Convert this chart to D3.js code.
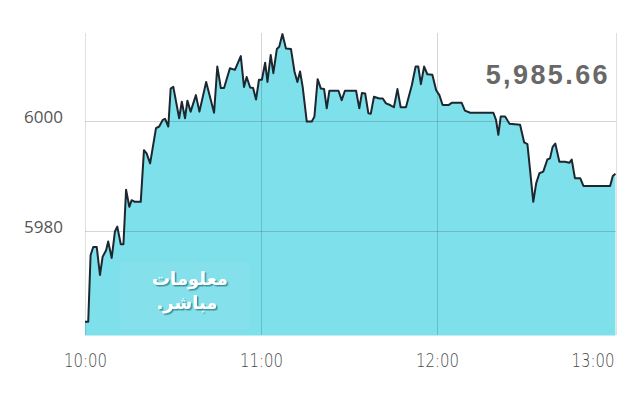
<!DOCTYPE html>
<html>
<head>
<meta charset="utf-8">
<script src="https://cdn.jsdelivr.net/npm/d3@7"></script>
<style>
  body { margin: 0; background: #fff; }
  svg { display: block; }
</style>
</head>
<body>
<div id="chart"></div>
<script>
// minutes after 10:00 and index level
const minutes = [0, 1.1, 1.9, 2.8, 4.0, 5.1, 6.0, 7.2, 7.9, 9.1, 10.2, 11.0, 12.2, 13.1, 14.0, 15.1, 15.9, 17.0, 19.0,
  20.1, 21.0, 22.2, 24.2, 25.3, 26.5, 27.3, 28.4, 29.2, 30.1, 32.1, 33.0, 34.1, 34.9, 36.0, 37.8, 39.0, 41.3,
  44.0, 45.1, 46.3, 47.4, 49.4, 51.1, 53.1, 54.2, 55.1, 56.3, 57.3, 58.3, 59.3, 60.3, 61.4, 62.2, 63.3, 64.2,
  65.4, 66.2, 67.3, 68.5, 70.2, 71.4, 72.4, 73.3, 74.2, 75.6, 77.3, 78.2, 79.3, 80.4, 81.5, 82.4, 83.3, 86.4,
  87.5, 88.6, 92.4, 93.5, 94.4, 95.5, 96.6, 97.4, 98.5, 100.3, 101.5, 102.6, 104.0, 105.3, 106.5, 107.6, 109.4,
  111.4, 112.7, 113.6, 114.5, 115.6, 116.7, 118.4, 119.7, 120.8, 121.9, 123.9, 125.0, 128.4, 129.5, 131.3,
  139.2, 140.1, 140.9, 141.7, 143.2, 144.7, 148.3, 149.7, 150.8, 151.7, 152.8, 153.8, 154.9, 156.2, 157.6,
  158.5, 159.4, 160.3, 161.7, 163.6, 165.1, 165.9, 167.0, 168.8, 169.9, 179.0, 179.9, 180.8];
const values = [5963.5, 5963.5, 5975.6, 5977.1, 5977.1, 5972.0, 5975.3, 5976.5, 5978.1, 5975.1, 5979.9, 5980.8, 5977.6, 5977.6, 5987.5, 5984.4, 5985.6, 5985.3, 5985.3,
  5994.7, 5994.1, 5992.3, 5998.7, 5999.0, 6000.2, 6000.4, 5999.0, 6005.9, 6006.2, 6000.5, 6003.5, 6000.5, 6003.7, 6001.7, 6004.7, 6001.7, 6007.1,
  6001.5, 6009.9, 6006.0, 6006.0, 6009.6, 6009.3, 6011.8, 6006.2, 6008.0, 6006.1, 6006.0, 6003.9, 6007.5, 6007.5, 6010.6, 6007.1, 6012.0, 6008.7,
  6013.1, 6013.5, 6015.8, 6013.2, 6013.1, 6009.0, 6007.1, 6009.0, 6006.2, 5999.9, 5999.9, 6000.8, 6007.6, 6005.9, 6005.8, 6002.3, 6005.5, 6005.5,
  6003.8, 6005.5, 6005.5, 6002.3, 6005.1, 6005.0, 6001.4, 6001.3, 6004.4, 6004.1, 6004.1, 6003.2, 6002.9, 6002.5, 6005.8, 6002.5, 6002.5,
  6006.5, 6009.9, 6009.9, 6006.7, 6009.9, 6008.5, 6008.4, 6005.6, 6004.7, 6002.9, 6002.9, 6003.3, 6003.3, 6001.9, 6001.5,
  6001.5, 6000.2, 5997.5, 6000.8, 6000.8, 5999.5, 5999.3, 5996.1, 5995.8, 5991.1, 5985.3, 5988.7, 5990.5, 5990.8, 5993.0,
  5993.2, 5995.3, 5995.9, 5992.6, 5992.6, 5992.4, 5993.0, 5989.6, 5989.6, 5988.2, 5988.2, 5990.0, 5990.4];

const timeTicks = [0, 60, 120, 180];
const timeLabels = ["10:00", "11:00", "12:00", "13:00"];
const levelTicks = [5980, 6000];
const lastValue = "5,985.66";

const width = 640, height = 400;
const data = minutes.map((m, i) => ({ m: m, v: values[i] }));

const svg = d3.select("#chart")
  .append("svg")
  .attr("width", width)
  .attr("height", height);

const x = d3.scaleLinear().domain([0, 181]).range([85, 616]);
const y = d3.scaleLinear().domain([5961, 6016]).range([335.5, 33]);

// drop shadow for the logo text
const defs = svg.append("defs");
const f = defs.append("filter").attr("id", "shadow").attr("x", "-20%").attr("y", "-20%")
  .attr("width", "140%").attr("height", "140%");
f.append("feDropShadow").attr("dx", 1.5).attr("dy", 1.5).attr("stdDeviation", 0.6)
  .attr("flood-color", "#2a7f88").attr("flood-opacity", 0.8);

// area under the line
svg.append("path")
  .datum(data)
  .attr("fill", "#7ee0ea")
  .attr("d", d3.area()
    .x(d => x(d.m))
    .y0(y(5961))
    .y1(d => y(d.v)));

// logo watermark
svg.append("rect")
  .attr("x", 120).attr("y", 262).attr("width", 130).attr("height", 68)
  .attr("fill", "#ffffff").attr("opacity", 0.05);
const logo = svg.append("g")
  .attr("filter", "url(#shadow)")
  .attr("fill", "#ffffff")
  .attr("font-family", "DejaVu Sans, Noto Sans, sans-serif")
  .attr("font-weight", "bold")
  .attr("direction", "rtl")
  .attr("text-anchor", "middle");
logo.append("text").attr("x", 190).attr("y", 285).attr("font-size", 18).text("معلومات");
logo.append("text").attr("x", 187).attr("y", 309).attr("font-size", 18).text("مباشر.");

// grid lines, semi transparent so they show over the fill
const grid = svg.append("g").attr("stroke", "rgba(0,0,0,0.16)").attr("stroke-width", 1);
grid.selectAll("line.h")
  .data(levelTicks)
  .enter()
  .append("line")
  .attr("x1", 85).attr("x2", 616)
  .attr("y1", d => Math.round(y(d)) + 0.5)
  .attr("y2", d => Math.round(y(d)) + 0.5);
grid.selectAll("line.v")
  .data(timeTicks.slice(1, 3))
  .enter()
  .append("line")
  .attr("y1", 33).attr("y2", 335)
  .attr("x1", d => Math.round(x(d)) + 0.5)
  .attr("x2", d => Math.round(x(d)) + 0.5);
// plot borders left and right
grid.selectAll("line.b")
  .data([85, 616])
  .enter()
  .append("line")
  .attr("stroke", "rgba(0,0,0,0.12)")
  .attr("y1", 33).attr("y2", 335)
  .attr("x1", d => d + 0.5).attr("x2", d => d + 0.5);

// the price line
svg.append("path")
  .datum(data)
  .attr("fill", "none")
  .attr("stroke", "#1d2730")
  .attr("stroke-width", 2)
  .attr("stroke-linejoin", "round")
  .attr("d", d3.line().x(d => x(d.m)).y(d => y(d.v)));

// y axis labels
const yAxis = svg.append("g")
  .attr("transform", "translate(63,-4)")
  .call(d3.axisLeft(y).tickValues(levelTicks).tickSize(0).tickPadding(0).tickFormat(d3.format("d")));
yAxis.select(".domain").remove();
yAxis.selectAll("text")
  .attr("font-family", "Open Sans, sans-serif")
  .attr("font-size", 17)
  .attr("fill", "#555");

// x axis labels, narrow face
const xAxis = svg.append("g")
  .attr("transform", "translate(0,353)")
  .call(d3.axisBottom(x).tickValues(timeTicks).tickSize(0).tickPadding(0)
    .tickFormat((d, i) => timeLabels[i]));
xAxis.select(".domain").remove();
xAxis.selectAll("text")
  .attr("font-family", "DejaVu Sans, sans-serif")
  .attr("font-size", 20)
  .attr("font-weight", 300)
  .attr("fill", "#4a4a4a")
  .attr("textLength", 43)
  .attr("lengthAdjust", "spacingAndGlyphs");
xAxis.selectAll("text").filter((d, i) => i === timeTicks.length - 1)
  .attr("text-anchor", "end")
  .attr("dx", 1);

// last value
svg.append("text")
  .attr("x", 610).attr("y", 84)
  .attr("text-anchor", "end")
  .attr("font-family", "Liberation Sans, Arial, sans-serif")
  .attr("font-weight", "bold")
  .attr("font-size", 27)
  .attr("letter-spacing", 2.4)
  .attr("fill", "#686868")
  .text(lastValue);
</script>
</body>
</html>
